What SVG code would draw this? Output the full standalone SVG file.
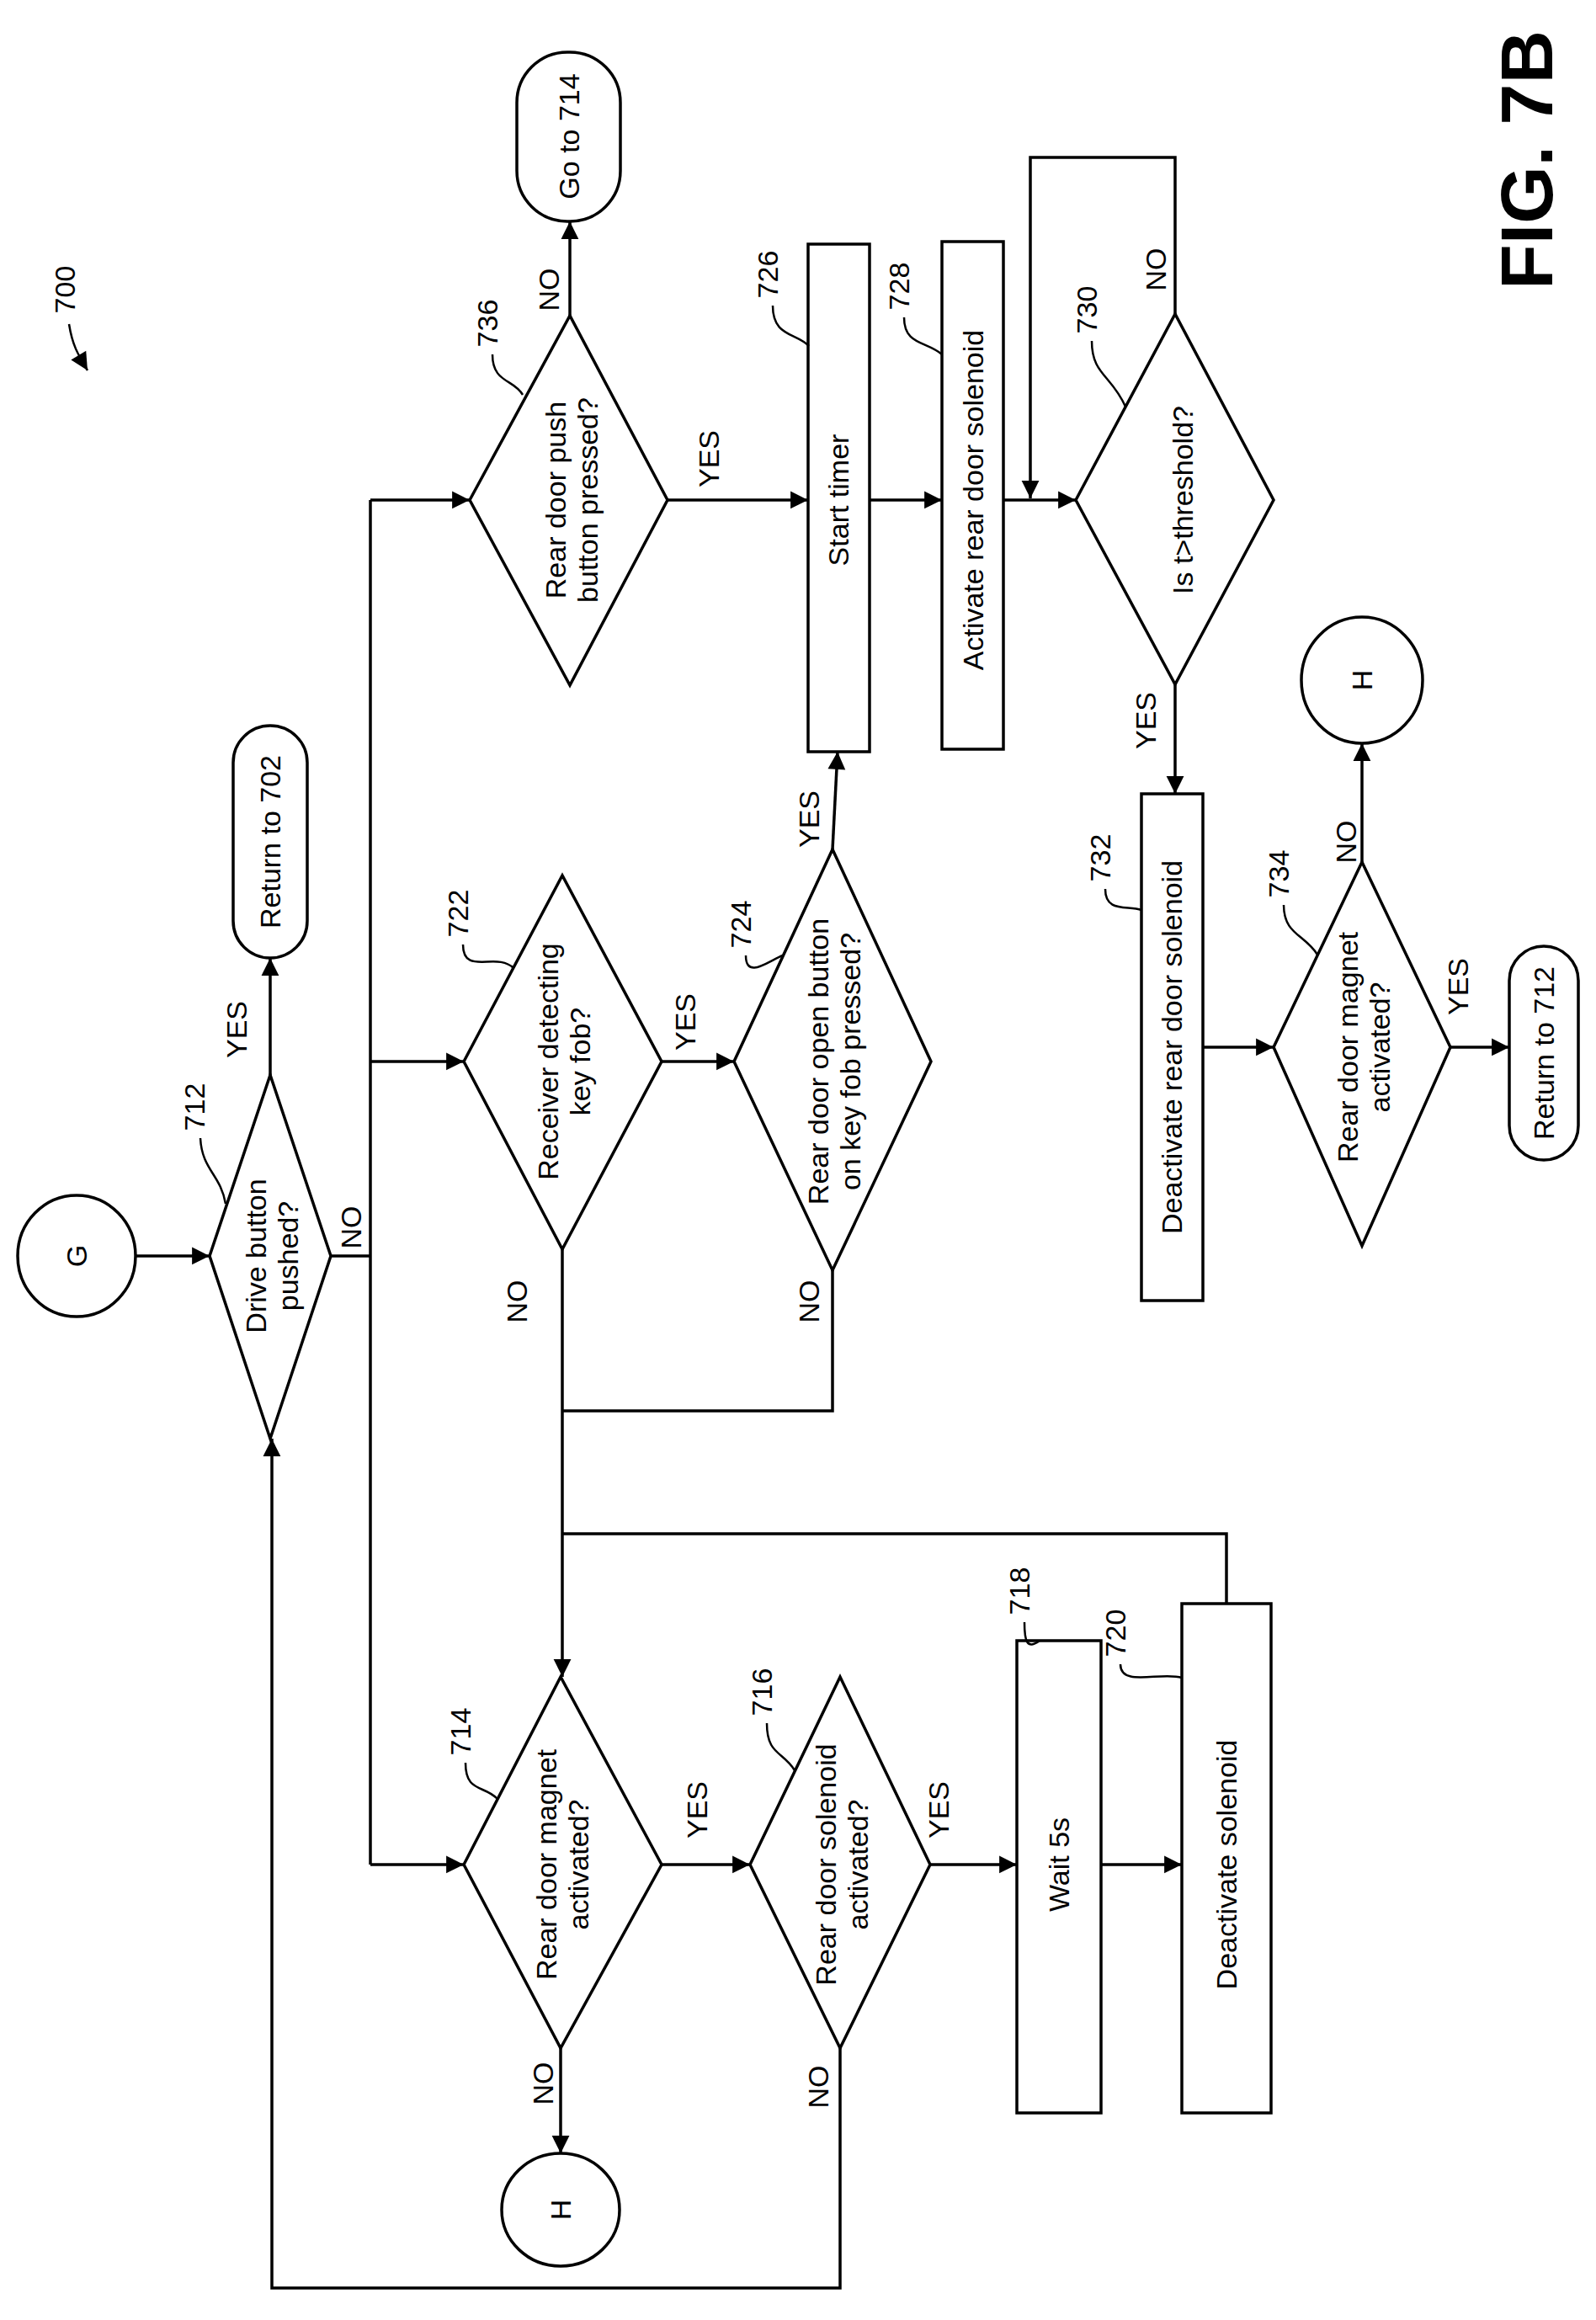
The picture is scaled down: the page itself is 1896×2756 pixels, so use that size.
<svg xmlns="http://www.w3.org/2000/svg" width="1896" height="2756" viewBox="0 0 1896 2756">
<style>
.s{fill:none;stroke:#000;stroke-width:3.5}
.c{fill:none;stroke:#000;stroke-width:3.5}
.l{fill:none;stroke:#000;stroke-width:2.5}
text{font-family:"Liberation Sans Narrow","Liberation Sans",sans-serif;font-size:34px;fill:#000;text-anchor:middle}
.f{font-family:"Liberation Sans",sans-serif;font-weight:bold;font-size:88px}
</style>
<defs>
<marker id="a" viewBox="0 0 10 10" refX="10" refY="5" markerWidth="8" markerHeight="8" markerUnits="userSpaceOnUse" orient="auto" style="overflow:visible"><path d="M0,0 L10,5 L0,10 Z" fill="#000" transform="scale(2.6) translate(-6.2,-3.1)"/></marker>
</defs>
<rect width="1896" height="2756" fill="#fff"/>

<g id="n700"><text transform="rotate(-90 77 344)" x="77" y="356">700</text><path class="l" d="M82,385 C86,410 92,420 104,440" marker-end="url(#a)"/></g>
<g id="fig"><text class="f" transform="rotate(-90 1812 190)" x="1812" y="222">FIG. 7B</text></g>

<g id="G"><ellipse class="s" cx="91" cy="1492" rx="70" ry="72"/><text transform="rotate(-90 91 1492)" x="91" y="1504">G</text></g>

<g id="d712"><polygon class="s" points="249,1492 321,1277 393,1492 321,1709"/>
<text transform="rotate(-90 321 1492)" x="321" y="1487">Drive button</text>
<text transform="rotate(-90 321 1492)" x="321" y="1525">pushed?</text>
<text transform="rotate(-90 231 1315)" x="231" y="1327">712</text><path class="l" d="M238,1352 C240,1390 262,1395 268,1430"/></g>

<g id="t702"><rect class="s" x="277" y="862" width="88" height="276" rx="44"/><text transform="rotate(-90 321 1000)" x="321" y="1012">Return to 702</text></g>

<g id="d736"><polygon class="s" points="558,594 677,375 793,594 677,814"/>
<text transform="rotate(-90 677 594)" x="677" y="589">Rear door push</text>
<text transform="rotate(-90 677 594)" x="677" y="627">button pressed?</text>
<text transform="rotate(-90 579 384)" x="579" y="396">736</text><path class="l" d="M585,421 C585,455 610,450 621,469"/></g>

<g id="t714"><rect class="s" x="614" y="62" width="123" height="201" rx="60"/><text transform="rotate(-90 676 162)" x="676" y="174">Go to 714</text></g>

<g id="r726"><rect class="s" x="960" y="290" width="73" height="603"/><text transform="rotate(-90 996 594)" x="996" y="606">Start timer</text>
<text transform="rotate(-90 912 326)" x="912" y="338">726</text><path class="l" d="M918,363 C918,400 945,395 961,411"/></g>

<g id="r728"><rect class="s" x="1119" y="287" width="73" height="603"/><text transform="rotate(-90 1156 594)" x="1156" y="606">Activate rear door solenoid</text>
<text transform="rotate(-90 1068 340)" x="1068" y="352">728</text><path class="l" d="M1074,377 C1074,410 1100,405 1119,421"/></g>

<g id="d730"><polygon class="s" points="1278,594 1396,373 1513,594 1396,813"/>
<text transform="rotate(-90 1405 594)" x="1405" y="606">Is t&gt;threshold?</text>
<text transform="rotate(-90 1291 368)" x="1291" y="380">730</text><path class="l" d="M1297,405 C1297,445 1320,445 1337,483"/></g>

<g id="r732"><rect class="s" x="1356" y="943" width="73" height="602"/><text transform="rotate(-90 1392 1244)" x="1392" y="1256">Deactivate rear door solenoid</text>
<text transform="rotate(-90 1307 1019)" x="1307" y="1031">732</text><path class="l" d="M1313,1056 C1313,1085 1340,1075 1356,1081"/></g>

<g id="d734"><polygon class="s" points="1513,1244 1618,1024 1723,1244 1618,1480"/>
<text transform="rotate(-90 1618 1244)" x="1618" y="1239">Rear door magnet</text>
<text transform="rotate(-90 1618 1244)" x="1618" y="1277">activated?</text>
<text transform="rotate(-90 1519 1038)" x="1519" y="1050">734</text><path class="l" d="M1525,1075 C1525,1110 1550,1110 1565,1134"/></g>

<g id="H2"><ellipse class="s" cx="1618" cy="808" rx="72" ry="75"/><text transform="rotate(-90 1618 808)" x="1618" y="820">H</text></g>

<g id="t712"><rect class="s" x="1793" y="1124" width="82" height="254" rx="41"/><text transform="rotate(-90 1834 1251)" x="1834" y="1263">Return to 712</text></g>

<g id="d722"><polygon class="s" points="551,1261 668,1040 786,1261 668,1484"/>
<text transform="rotate(-90 668 1261)" x="668" y="1256">Receiver detecting</text>
<text transform="rotate(-90 668 1261)" x="668" y="1294">key fob?</text>
<text transform="rotate(-90 544 1085)" x="544" y="1097">722</text><path class="l" d="M550,1122 C550,1160 590,1130 610,1150"/></g>

<g id="d724"><polygon class="s" points="872,1261 989,1009 1106,1261 989,1509"/>
<text transform="rotate(-90 989 1261)" x="989" y="1256">Rear door open button</text>
<text transform="rotate(-90 989 1261)" x="989" y="1294">on key fob pressed?</text>
<text transform="rotate(-90 880 1098)" x="880" y="1110">724</text><path class="l" d="M886,1135 C886,1165 915,1140 930,1135"/></g>

<g id="d714"><polygon class="s" points="551,2215 666,1992 786,2215 666,2433"/>
<text transform="rotate(-90 666 2215)" x="666" y="2210">Rear door magnet</text>
<text transform="rotate(-90 666 2215)" x="666" y="2248">activated?</text>
<text transform="rotate(-90 547 2057)" x="547" y="2069">714</text><path class="l" d="M553,2094 C553,2130 575,2120 591,2137"/></g>

<g id="d716"><polygon class="s" points="891,2215 998,1992 1105,2215 998,2433"/>
<text transform="rotate(-90 998 2215)" x="998" y="2210">Rear door solenoid</text>
<text transform="rotate(-90 998 2215)" x="998" y="2248">activated?</text>
<text transform="rotate(-90 905 2010)" x="905" y="2022">716</text><path class="l" d="M911,2047 C911,2085 930,2080 944,2103"/></g>

<g id="H1"><ellipse class="s" cx="666" cy="2625" rx="70" ry="67"/><text transform="rotate(-90 666 2625)" x="666" y="2637">H</text></g>

<g id="r718"><rect class="s" x="1208" y="1949" width="100" height="561"/><text transform="rotate(-90 1258 2215)" x="1258" y="2227">Wait 5s</text>
<text transform="rotate(-90 1211 1890)" x="1211" y="1902">718</text><path class="l" d="M1217,1927 C1217,1950 1220,1960 1235,1949"/></g>

<g id="r720"><rect class="s" x="1404" y="1905" width="106" height="605"/><text transform="rotate(-90 1457 2215)" x="1457" y="2227">Deactivate solenoid</text>
<text transform="rotate(-90 1325 1940)" x="1325" y="1952">720</text><path class="l" d="M1331,1977 C1331,2005 1380,1985 1404,1993"/></g>

<g id="connectors">
<path class="c" d="M161,1492 H249" marker-end="url(#a)"/>
<path class="c" d="M321,1277 V1138" marker-end="url(#a)"/>
<path class="c" d="M393,1492 H440 M440,594 V2215"/>
<path class="c" d="M440,594 H558" marker-end="url(#a)"/>
<path class="c" d="M440,1261 H551" marker-end="url(#a)"/>
<path class="c" d="M440,2215 H551" marker-end="url(#a)"/>
<path class="c" d="M677,375 V263" marker-end="url(#a)"/>
<path class="c" d="M793,594 H960" marker-end="url(#a)"/>
<path class="c" d="M1033,594 H1119" marker-end="url(#a)"/>
<path class="c" d="M1192,594 H1278" marker-end="url(#a)"/>
<path class="c" d="M1396,373 V187 H1224 V592" marker-end="url(#a)"/>
<path class="c" d="M786,1261 H872" marker-end="url(#a)"/>
<path class="c" d="M989,1009 L995,893" marker-end="url(#a)"/>
<path class="c" d="M668,1484 V1992" marker-end="url(#a)"/>
<path class="c" d="M989,1509 V1676 H668"/>
<path class="c" d="M1457,1905 V1822 H668"/>
<path class="c" d="M786,2215 H891" marker-end="url(#a)"/>
<path class="c" d="M666,2433 V2558" marker-end="url(#a)"/>
<path class="c" d="M1105,2215 H1208" marker-end="url(#a)"/>
<path class="c" d="M1308,2215 H1404" marker-end="url(#a)"/>
<path class="c" d="M998,2433 V2718 H323 V1709" marker-end="url(#a)"/>
<path class="c" d="M1396,813 V943" marker-end="url(#a)"/>
<path class="c" d="M1429,1244 H1513" marker-end="url(#a)"/>
<path class="c" d="M1618,1024 V883" marker-end="url(#a)"/>
<path class="c" d="M1723,1244 H1793" marker-end="url(#a)"/>
</g>

<g id="labels">
<text transform="rotate(-90 281 1223)" x="281" y="1235">YES</text>
<text transform="rotate(-90 417 1458)" x="417" y="1470">NO</text>
<text transform="rotate(-90 652 344)" x="652" y="356">NO</text>
<text transform="rotate(-90 842 545)" x="842" y="557">YES</text>
<text transform="rotate(-90 814 1214)" x="814" y="1226">YES</text>
<text transform="rotate(-90 961 973)" x="961" y="985">YES</text>
<text transform="rotate(-90 1373 320)" x="1373" y="332">NO</text>
<text transform="rotate(-90 1361 856)" x="1361" y="868">YES</text>
<text transform="rotate(-90 1599 1000)" x="1599" y="1012">NO</text>
<text transform="rotate(-90 1732 1172)" x="1732" y="1184">YES</text>
<text transform="rotate(-90 614 1546)" x="614" y="1558">NO</text>
<text transform="rotate(-90 961 1546)" x="961" y="1558">NO</text>
<text transform="rotate(-90 828 2150)" x="828" y="2162">YES</text>
<text transform="rotate(-90 972 2479)" x="972" y="2491">NO</text>
<text transform="rotate(-90 645 2475)" x="645" y="2487">NO</text>
<text transform="rotate(-90 1115 2150)" x="1115" y="2162">YES</text>
</g>
</svg>
